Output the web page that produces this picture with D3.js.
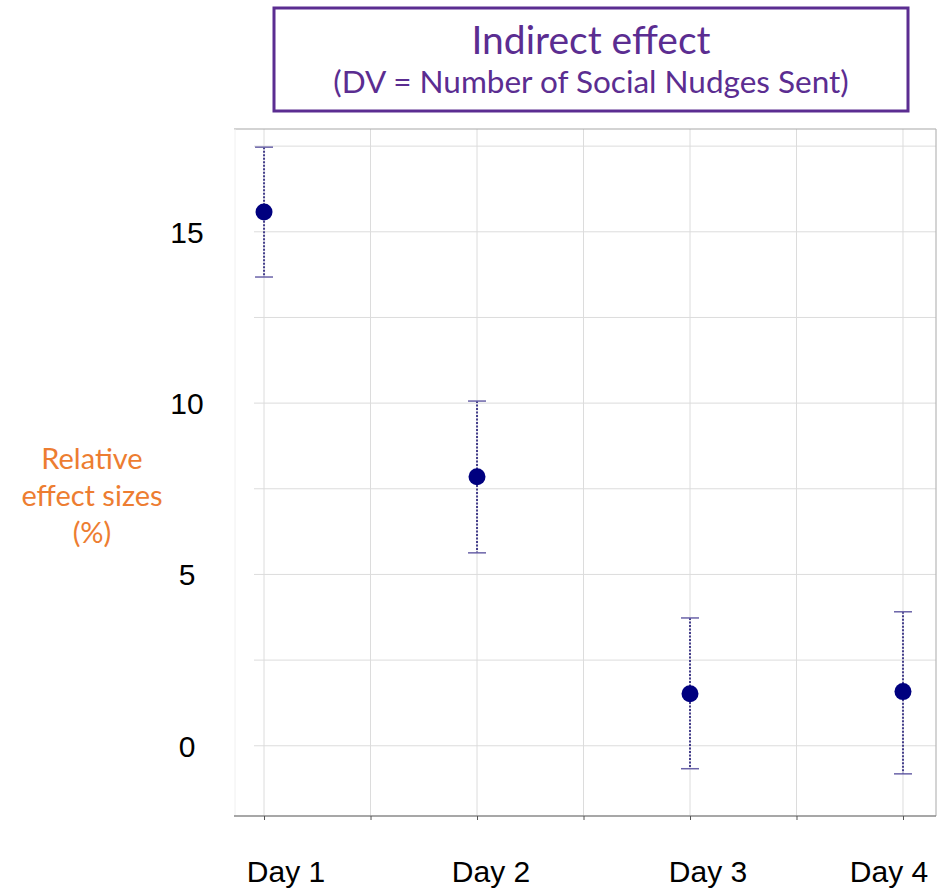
<!DOCTYPE html>
<html lang="en">
<head>
    <meta charset="utf-8">
    <title>Indirect effect</title>
    <script src="https://d3js.org/d3.v7.min.js"></script>
    <style>
        body { margin: 0; background: #fff; }
    </style>
</head>
<body>
<div id="chart"></div>
<script>

/* ------------------------------------------------------------
 *  Data
 * ------------------------------------------------------------ */
var days = ["Day 1", "Day 2", "Day 3", "Day 4"];
var effect = [15.58, 7.85, 1.52, 1.58];
var ciLow = [13.68, 5.63, -0.67, -0.82];
var ciHigh = [17.47, 10.06, 3.73, 3.91];
var yTicks = [0, 5, 10, 15];
var yGrid = [0, 2.5, 5, 7.5, 10, 12.5, 15, 17.5];
var xGrid = [1, 1.5, 2, 2.5, 3, 3.5, 4];
var labelShift = [22, 14, 18, -14]; // day labels sit a bit off their tick

var width = 938, height = 889;
var plot = {left: 234, right: 936, top: 129, bottom: 816};

var svg = d3.select("#chart")
    .append("svg")
    .attr("width", width)
    .attr("height", height);

var x = d3.scaleLinear()
    .domain([0.859, 4.155])
    .range([plot.left, plot.right]);

var y = d3.scaleLinear()
    .domain([-2.05, 18.0])
    .range([plot.bottom, plot.top]);

// Grid
svg.append("g")
    .selectAll("line")
    .data(yGrid)
    .enter()
    .append("line")
    .attr("x1", 254)
    .attr("x2", plot.right)
    .attr("y1", d => y(d))
    .attr("y2", d => y(d))
    .attr("stroke", "#dcdcdc")
    .attr("stroke-width", 1);

svg.append("g")
    .selectAll("line")
    .data(xGrid)
    .enter()
    .append("line")
    .attr("x1", d => x(d))
    .attr("x2", d => x(d))
    .attr("y1", plot.top)
    .attr("y2", plot.bottom)
    .attr("stroke", "#dcdcdc")
    .attr("stroke-width", 1);

// Frame: top, right, faint left, bottom axis
svg.append("line")
    .attr("x1", plot.left).attr("x2", plot.right)
    .attr("y1", plot.top).attr("y2", plot.top)
    .attr("stroke", "#a8a8a8").attr("stroke-width", 1.2);
svg.append("line")
    .attr("x1", plot.right).attr("x2", plot.right)
    .attr("y1", plot.top).attr("y2", plot.bottom)
    .attr("stroke", "#b8b8b8").attr("stroke-width", 1.2);
svg.append("line")
    .attr("x1", plot.left + 1).attr("x2", plot.left + 1)
    .attr("y1", plot.top).attr("y2", plot.bottom)
    .attr("stroke", "#f0f0f0").attr("stroke-width", 1);

var xAxis = d3.axisBottom(x)
    .tickValues(xGrid)
    .tickSize(4)
    .tickFormat("");
var gx = svg.append("g")
    .attr("transform", `translate(0,${plot.bottom})`)
    .call(xAxis);
gx.select(".domain")
    .attr("d", `M${plot.left},0H${plot.right}`)
    .attr("stroke", "#8a8a8a")
    .attr("stroke-width", 1.4);
gx.selectAll(".tick line").attr("stroke", "#555");

// Day labels
svg.append("g")
    .selectAll("text")
    .data(days)
    .enter()
    .append("text")
    .attr("x", (d, i) => x(i + 1) + labelShift[i])
    .attr("y", 882)
    .attr("text-anchor", "middle")
    .style("font-family", "'Liberation Sans', Arial, sans-serif")
    .style("font-size", "30px")
    .attr("fill", "#000")
    .text(d => d);

// Y tick labels
svg.append("g")
    .selectAll("text")
    .data(yTicks)
    .enter()
    .append("text")
    .attr("x", 187)
    .attr("y", d => y(d) + 11)
    .attr("text-anchor", "middle")
    .style("font-family", "'Liberation Sans', Arial, sans-serif")
    .style("font-size", "30px")
    .attr("fill", "#000")
    .text(d => d);

// Y axis title
var ylab = svg.append("text")
    .attr("text-anchor", "middle")
    .style("font-family", "Lato, 'Open Sans', sans-serif")
    .style("font-size", "29px")
    .attr("fill", "#ed7d31");
["Relative", "effect sizes", "(%)"].forEach((t, i) => {
    ylab.append("tspan")
        .attr("x", 92)
        .attr("y", 469 + i * 37)
        .text(t);
});

// Error bars
var bars = svg.append("g");
days.forEach((d, i) => {
    let cx = x(i + 1);
    bars.append("line")
        .attr("x1", cx).attr("x2", cx)
        .attr("y1", y(ciHigh[i])).attr("y2", y(ciLow[i]))
        .attr("stroke", "#453f8c")
        .attr("stroke-width", 2)
        .attr("stroke-dasharray", "2,1.5");
    [ciHigh[i], ciLow[i]].forEach(v => {
        bars.append("line")
            .attr("x1", cx - 9).attr("x2", cx + 9)
            .attr("y1", y(v)).attr("y2", y(v))
            .attr("stroke", "#6a63a8")
            .attr("stroke-width", 1.5);
    });
});

// Points
svg.append("g")
    .selectAll("circle")
    .data(effect)
    .enter()
    .append("circle")
    .attr("cx", (d, i) => x(i + 1))
    .attr("cy", d => y(d))
    .attr("r", 8.5)
    .attr("fill", "#00007f");

// Title box
svg.append("rect")
    .attr("x", 274)
    .attr("y", 8)
    .attr("width", 634)
    .attr("height", 103)
    .attr("fill", "#fff")
    .attr("stroke", "#5b2d91")
    .attr("stroke-width", 3);
svg.append("text")
    .attr("x", 591)
    .attr("y", 54)
    .attr("text-anchor", "middle")
    .style("font-family", "Lato, 'Open Sans', sans-serif")
    .style("font-size", "39px")
    .attr("fill", "#5b2d91")
    .text("Indirect effect");
svg.append("text")
    .attr("x", 591)
    .attr("y", 93)
    .attr("text-anchor", "middle")
    .style("font-family", "Lato, 'Open Sans', sans-serif")
    .style("font-size", "31.5px")
    .attr("fill", "#5b2d91")
    .text("(DV = Number of Social Nudges Sent)");

</script>
</body>
</html>
